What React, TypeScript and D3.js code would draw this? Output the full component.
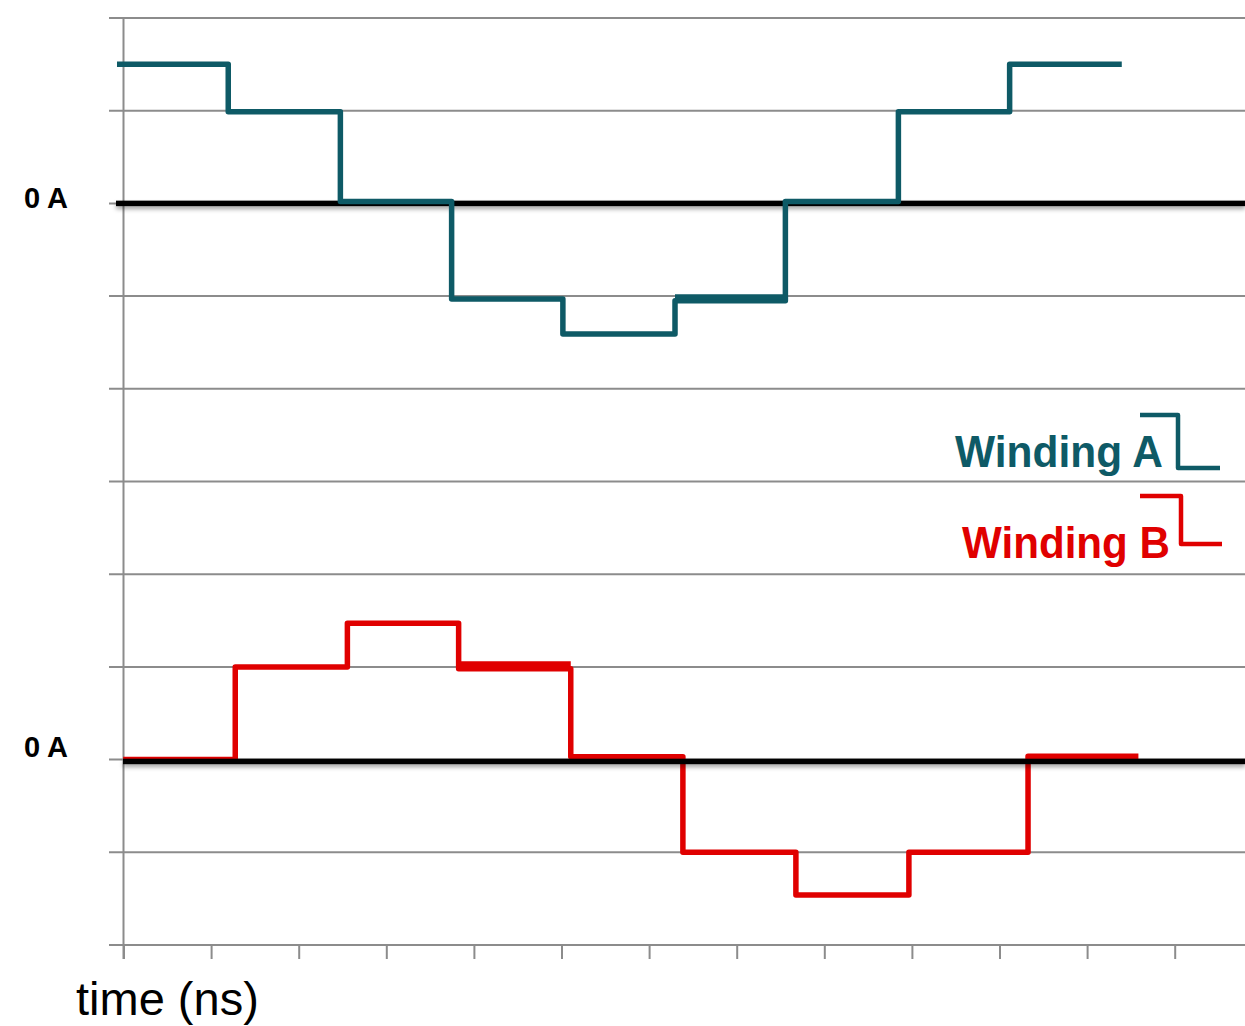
import React from "react";
import * as d3 from "d3";

// ---- data ----
const timeTicks = [0, 1, 2, 3, 4, 5, 6, 7, 8, 9, 10, 11, 12, 13];
const gridLevels = [2, 1, 0, -1, -2, -3, -4, -5, -6, -7, -8];

const timeA = [-0.08, 1.19, 2.47, 3.74, 5.01, 6.29, 7.55, 8.84, 10.11, 11.39];
const currentA = [1.5, 0.99, 0.02, -1.03, -1.41, -1.05, 0.02, 0.99, 1.5, 1.5];
const overlayTimeA = [6.29, 7.55];
const overlayCurrentA = [-1.01, -1.01];

const baselineB = -6;
const timeB = [-0.01, 1.27, 2.55, 3.82, 5.1, 6.38, 7.67, 8.96, 10.32, 11.58];
const currentB = [0.0, 1.0, 1.47, 0.98, 0.03, -1.0, -1.46, -1.0, 0.035, 0.035];
const overlayTimeB = [3.82, 5.1];
const overlayCurrentB = [1.03, 1.03];

const zeroLevels = [0, -6.02];
const zeroLabel = "0 A";
const xTitle = "time (ns)";
const legendLabels = ["Winding A", "Winding B"];

const COLOR_A = "#0e5a66";
const COLOR_B = "#e00000";
const FONT = "'Liberation Sans', Arial, Helvetica, sans-serif";

export default function App() {
  const W = 1245;
  const H = 1026;
  const x = d3.scaleLinear().domain([0, 1]).range([124, 211.6]);
  const y = d3.scaleLinear().domain([-8, 2]).range([945, 18]);

  const line = d3
    .line<[number, number]>()
    .x((d) => x(d[0]))
    .y((d) => y(d[1]))
    .curve(d3.curveStepAfter);

  const ptsA: [number, number][] = timeA.map((t, i) => [t, currentA[i]]);
  const ptsAo: [number, number][] = overlayTimeA.map((t, i) => [t, overlayCurrentA[i]]);
  const ptsB: [number, number][] = timeB.map((t, i) => [t, baselineB + currentB[i]]);
  const ptsBo: [number, number][] = overlayTimeB.map((t, i) => [t, baselineB + overlayCurrentB[i]]);

  const legendStep = (x0: number, yTop: number, xMid: number, yBot: number, x1: number) =>
    `M${x0},${yTop}H${xMid}V${yBot}H${x1}`;

  return (
    <svg
      width={W}
      height={H}
      style={{ position: "absolute", left: 0, top: 0, background: "#fff" }}
      fontFamily={FONT}
    >
      <defs>
        <filter id="shadow" filterUnits="userSpaceOnUse" x="0" y="0" width={W} height={H}>
          <feDropShadow dx="0" dy="3" stdDeviation="2.2" floodColor="#000" floodOpacity="0.35" />
        </filter>
      </defs>

      {/* gridlines */}
      {gridLevels.map((v) => (
        <line key={v} x1={109} x2={W} y1={y(v)} y2={y(v)} stroke="#8c8c8c" strokeWidth={2} />
      ))}
      {/* vertical axis */}
      <line x1={123.5} x2={123.5} y1={18} y2={959} stroke="#8c8c8c" strokeWidth={2} />
      {/* bottom ticks */}
      {timeTicks.map((t) => (
        <line key={t} x1={x(t)} x2={x(t)} y1={945} y2={959} stroke="#8c8c8c" strokeWidth={2} />
      ))}

      {/* winding B (under black zero line) */}
      <path d={line(ptsB) || ""} fill="none" stroke={COLOR_B} strokeWidth={5.5} strokeLinejoin="round" />
      <path d={line(ptsBo) || ""} fill="none" stroke={COLOR_B} strokeWidth={5.5} strokeLinejoin="round" />

      {/* zero lines */}
      <rect x={116} width={W - 116} y={y(zeroLevels[0]) - 2.75} height={5.5} fill="#000" filter="url(#shadow)" />
      <rect x={123} width={W - 123} y={y(zeroLevels[1]) - 2.75} height={5.5} fill="#000" filter="url(#shadow)" />

      {/* winding A (over black zero line) */}
      <path d={line(ptsA) || ""} fill="none" stroke={COLOR_A} strokeWidth={5.5} strokeLinejoin="round" />
      <path d={line(ptsAo) || ""} fill="none" stroke={COLOR_A} strokeWidth={5.5} strokeLinejoin="round" />

      {/* zero labels */}
      <text x={24} y={208} fontSize={29} fontWeight="bold" fill="#000">{zeroLabel}</text>
      <text x={24} y={757} fontSize={29} fontWeight="bold" fill="#000">{zeroLabel}</text>

      {/* x title */}
      <text x={76} y={1015} fontSize={47} fill="#000">{xTitle}</text>

      {/* legend */}
      <text x={1163} y={467} fontSize={45} fontWeight="bold" fill={COLOR_A} textAnchor="end" textLength={208} lengthAdjust="spacingAndGlyphs">
        {legendLabels[0]}
      </text>
      <path d={legendStep(1140, 415, 1178, 468, 1220)} fill="none" stroke={COLOR_A} strokeWidth={4.5} strokeLinejoin="round" />
      <text x={1170} y={558} fontSize={45} fontWeight="bold" fill={COLOR_B} textAnchor="end" textLength={208} lengthAdjust="spacingAndGlyphs">
        {legendLabels[1]}
      </text>
      <path d={legendStep(1140, 496, 1181, 544, 1222)} fill="none" stroke={COLOR_B} strokeWidth={4.5} strokeLinejoin="round" />
    </svg>
  );
}
